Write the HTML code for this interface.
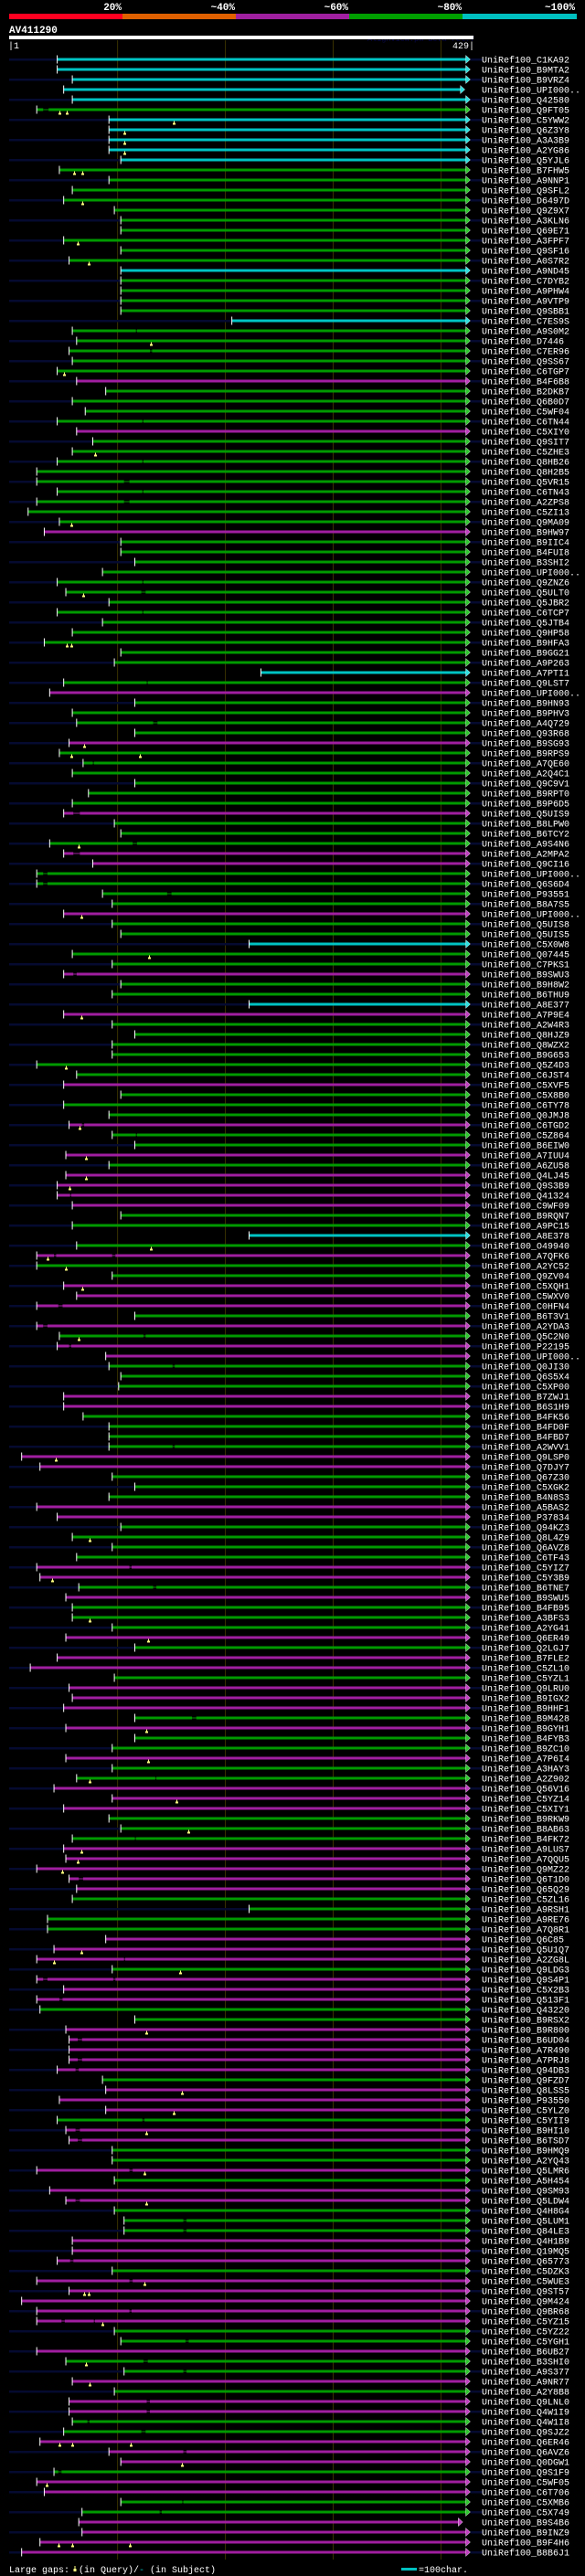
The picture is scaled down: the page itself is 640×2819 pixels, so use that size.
<!DOCTYPE html>
<html><head><meta charset="utf-8"><style>
html,body{margin:0;padding:0;background:#000;}
svg{display:block;}
text{font-family:"Liberation Mono",monospace;}
</style></head><body>
<svg id="chart" width="640" height="2819" viewBox="0 0 640 2819" xmlns="http://www.w3.org/2000/svg">
<rect x="0" y="0" width="640" height="2819" fill="#000"/>
<g>
<rect x="10" y="15" width="124" height="6" fill="#ff0020"/>
<rect x="134" y="15" width="124" height="6" fill="#e06000"/>
<rect x="258" y="15" width="124" height="6" fill="#a020a0"/>
<rect x="382" y="15" width="124" height="6" fill="#00a000"/>
<rect x="506" y="15" width="125" height="6" fill="#00c0c0"/>
<text x="133" y="11" text-anchor="end" font-size="11" font-weight="bold" fill="#fff">20%</text>
<text x="257" y="11" text-anchor="end" font-size="11" font-weight="bold" fill="#fff">~40%</text>
<text x="381" y="11" text-anchor="end" font-size="11" font-weight="bold" fill="#fff">~60%</text>
<text x="505" y="11" text-anchor="end" font-size="11" font-weight="bold" fill="#fff">~80%</text>
<text x="629" y="11" text-anchor="end" font-size="11" font-weight="bold" fill="#fff">~100%</text>
</g>
<text x="10" y="36" font-size="11" font-weight="bold" fill="#fff">AV411290</text>
<text x="402" y="45" font-size="8.5" fill="#0a0a46">AlignView.pm Beta rel.7</text>
<rect x="10" y="39" width="508" height="4" fill="#fff"/>
<text x="9" y="53" font-size="10" fill="#fff">|1</text>
<text x="519" y="53" text-anchor="end" font-size="10" fill="#fff">429|</text>
<g id="grid"></g>
<g id="rows"></g>
<g>
<text x="10" y="2815" font-size="10" fill="#fff">Large gaps:</text>
<line x1="82" y1="2808" x2="82" y2="2811" stroke="#ffff80" stroke-width="1"/>
<rect x="80.5" y="2811" width="3" height="3" fill="#ffff80"/>
<text x="86" y="2815" font-size="10" fill="#fff">(in Query)/<tspan fill="#00c0c0">-</tspan> (in Subject)</text>
<rect x="439" y="2810" width="17" height="3" fill="#00c0c0"/>
<text x="458" y="2815" font-size="10" fill="#fff">=100char.</text>
</g>
</svg>
<script>
const names = ["C1KA92","B9MTA2","B9VRZ4","UPI000..","Q42580","Q9FT05","C5YWW2","Q6Z3Y8","A3A3B9","A2YG86","Q5YJL6","B7FHW5","A9NNP1","Q9SFL2","D6497D","Q9Z9X7","A3KLN6","Q69E71","A3FPF7","Q9SF16","A0S7R2","A9ND45","C7DYB2","A9PHW4","A9VTP9","Q9SBB1","C7ES9S","A9S0M2","D7446","C7ER96","Q9SS67","C6TGP7","B4F6B8","B2DKB7","Q6B0D7","C5WF04","C6TN44","C5XIY0","Q9SIT7","C5ZHE3","Q8HB26","Q8H2B5","Q5VR15","C6TN43","A2ZPS8","C5ZI13","Q9MA09","B9HW97","B9IIC4","B4FUI8","B3SHI2","UPI000..","Q9ZNZ6","Q5ULT0","Q5JBR2","C6TCP7","Q5JTB4","Q9HP58","B9HFA3","B9GG21","A9P263","A7PTI1","Q9LST7","UPI000..","B9HN93","B9PHV3","A4Q729","Q93R68","B9SG93","B9RPS9","A7QE60","A2Q4C1","Q9C9V1","B9RPT0","B9P6D5","Q5UIS9","B8LPW0","B6TCY2","A9S4N6","A2MPA2","Q9CI16","UPI000..","Q6S6D4","P93551","B8A7S5","UPI000..","Q5UIS8","Q5UIS5","C5X0W8","Q07445","C7PKS1","B9SWU3","B9H8W2","B6THU9","A8E377","A7P9E4","A2W4R3","Q8HJZ9","Q8WZX2","B9G653","Q5Z4D3","C6JST4","C5XVF5","C5X8B0","C6TY78","Q0JMJ8","C6TGD2","C5Z864","B6EIW0","A7IUU4","A6ZU58","Q4LJ45","Q9S3B9","Q41324","C9WF09","B9RQN7","A9PC15","A8E378","O49940","A7QFK6","A2YC52","Q9ZV04","C5XQH1","C5WXV0","C0HFN4","B6T3V1","A2YDA3","Q5C2N0","P22195","UPI000..","Q0JI30","Q6S5X4","C5XP00","B7ZWJ1","B6S1H9","B4FK56","B4FD0F","B4FBD7","A2WVV1","Q9LSP0","Q7DJY7","Q67Z30","C5XGK2","B4N8S3","A5BAS2","P37834","Q94KZ3","Q8L4Z9","Q6AVZ8","C6TF43","C5YIZ7","C5Y3B9","B6TNE7","B9SWU5","B4FB95","A3BFS3","A2YG41","Q6ER49","Q2LGJ7","B7FLE2","C5ZL10","C5YZL1","Q9LRU0","B9IGX2","B9HHF1","B9M428","B9GYH1","B4FYB3","B9ZC10","A7P6I4","A3HAY3","A2Z902","Q56V16","C5YZ14","C5XIY1","B9RKW9","B8AB63","B4FK72","A9LUS7","A7QQU5","Q9MZ22","Q6T1D0","Q65Q29","C5ZL16","A9RSH1","A9RE76","A7Q8R1","Q6C85","Q5U1Q7","A2ZG8L","Q9LDG3","Q9S4P1","C5X2B3","Q513F1","Q43220","B9RSX2","B9R800","B6UD04","A7R490","A7PRJ8","Q94DB3","Q9FZD7","Q8LSS5","P93550","C5YLZ0","C5YII9","B9HI10","B6TSD7","B9HMQ9","A2YQ43","Q5LMR6","A5H454","Q9SM93","Q5LDW4","Q4H8G4","Q5LUM1","Q84LE3","Q4H1B9","Q19MQ5","Q65773","C5DZK3","C5WUE3","Q9ST57","Q9M424","Q9BR68","C5YZ15","C5YZ22","C5YGH1","B6UB27","B3SHI0","A9S377","A9NR77","A2Y8B8","Q9LNL0","Q4W1I9","Q4W1I8","Q9SJZ2","Q6ER46","Q6AVZ6","Q0DGW1","Q9S1F9","C5WF05","C6T706","C5XMB6","C5X749","B9S4B6","B9INZ9","B9F4H6","B8B6J1"];
const identityClass = ("cccccgcccc"+"cggggggggg"+"gcggggcggg"+"ggmggggmgg"+"gggggggmgg"+"gggggggggg"+"gcgmggggmg"+"gggggmgggm"+"mggggmggcg"+"gmggcmgggg"+"ggmgggmggm"+"gmmmmggcgm"+"ggmmmgmgmm"+"gggmmggggm"+"mgggmmgggg"+"mmgmgggmgm"+"mgmmmgmggm"+"ggmmmgggmm"+"mmmggggmmm"+"gmmmggmmmm"+"mgmmmgmmgg"+"mgmmgggmmm"+"gmmmmmggmg"+"gmgmmggmmm"+"gmmggmmmm").split("");
const starts = [44,44,58,50,58,25,92,92,92,92,103,46,92,58,50,97,103,103,50,103,55,103,103,103,103,103,206,58,62,55,58,44,62,89,58,70,44,62,77,58,44,
25,25,44,25,17,46,32,103,103,116,86,44,52,92,44,86,58,32,103,97,233,50,37,116,58,62,116,55,46,68,58,116,73,58,50,97,103,37,50,77,
25,25,86,95,50,95,103,222,58,95,50,103,95,222,50,95,116,95,95,25,62,50,103,50,92,55,95,116,52,92,52,44,44,58,103,58,222,62,25,25,95,
50,62,25,116,25,46,44,89,92,103,101,50,50,68,92,92,92,11,28,95,116,92,25,44,103,58,95,62,25,28,64,52,58,58,95,52,116,44,19,97,
55,58,50,116,52,116,95,52,95,62,41,95,50,92,103,58,50,52,25,55,62,58,222,35,35,89,41,25,95,25,50,25,28,116,52,55,55,55,44,86,
89,46,89,44,52,55,95,95,25,97,37,52,97,106,106,58,58,44,95,25,55,11,25,25,97,103,25,52,106,58,97,55,55,58,50,28,92,103,41,25,32,103,67,64,67,28,11];
const ends = {3:418, 245:416};
const defaultEnd = 423;
const subjectBreaks = {5:[[31,36]],27:[[117,118]],29:[[130,132]],36:[[123,124]],40:[[123,124]],42:[[106,111]],43:[[123,124]],44:[[106,111]],52:[[123,124]],53:[[122,126]],55:[[123,124]],62:[[127,128]],66:[[133,137]],70:[[77,78]],75:[[59,65]],78:[[114,118]],79:[[59,65]],81:[[31,35]],82:[[31,35]],83:[[146,150]],91:[[59,62]],106:[[67,69]],107:[[117,118]],113:[[56,57]],119:[[41,43],[95,98]],124:[[45,49]],126:[[31,35]],127:[[124,126]],128:[[55,57]],130:[[151,153]],138:[[151,153]],150:[[111,113]],152:[[133,136]],165:[[169,173]],171:[[135,136]],177:[[116,117]],181:[[64,68]],189:[[106,107]],191:[[31,35],[96,98]],193:[[46,49]],197:[[63,67]],199:[[63,67]],200:[[61,64]],205:[[123,125]],206:[[61,65]],207:[[63,67]],210:[[111,114]],213:[[61,65]],215:[[161,164]],216:[[161,164]],219:[[56,59]],221:[[111,114]],224:[[111,113]],225:[[48,51],[78,79]],227:[[163,166]],229:[[124,128]],230:[[161,164]],233:[[127,130]],234:[[127,130]],235:[[72,74]],236:[[122,126]],238:[[161,164]],240:[[45,48]],243:[[160,161]],244:[[139,141]]};
const queryGaps = {5:[46,53],6:[152],7:[106],8:[106],9:[106],11:[60,67],14:[67],18:[63],20:[73],28:[131],31:[50],39:[79],46:[57],53:[68],58:[53,57],68:[69],69:[57,121],78:[64],85:[66],89:[129],95:[66],100:[52],106:[65],109:[71],111:[71],112:[55],118:[131],119:[35],120:[52],122:[67],127:[64],139:[43],147:[74],151:[39],155:[74],157:[128],166:[127],169:[128],171:[74],173:[155],176:[166],178:[66],179:[63],180:[49],188:[66],189:[41],190:[158],196:[127],202:[160],204:[152],206:[127],210:[125],213:[127],221:[125],222:[69,73],225:[86],229:[71],231:[74],237:[46,58,112],239:[160],241:[34],247:[45,58,111]};
const gridTicks = [100,200,300,400];

const NS = "http://www.w3.org/2000/svg";
function xScale(c){ return 10.7 + 1.1793*c; }
function yRow(i){ return 65 + 11*i; }
const barColor = {c:"#00c4c4", g:"#009a00", m:"#a01ea0"};
const arrowColor = {c:"#30e0e0", g:"#30c830", m:"#c040c0"};
function mk(tag, attrs, parent){
  const el = document.createElementNS(NS, tag);
  for (const k in attrs) el.setAttribute(k, attrs[k]);
  parent.appendChild(el);
  return el;
}
const grid = document.getElementById("grid");
gridTicks.forEach(t => {
  const l = mk("line", {x1:xScale(t), x2:xScale(t), y1:44, y2:2801, stroke:"#3a3200", "stroke-width":1}, grid);
  
  
});
const rowsG = document.getElementById("rows");
for (let i = 0; i < names.length; i++) {
  const y = yRow(i);
  const col = identityClass[i] || "g";
  const s = starts[i];
  const e = ends[i] || defaultEnd;
  const g = mk("g", {}, rowsG);
  
  
  if (i % 2 === 0) {
    const n1 = mk("rect", {x:10, y:y-1, width:Math.max(0, xScale(s)-10), height:2.5, fill:"#050a30"}, g);
    
    
    const n2 = mk("rect", {x:xScale(e)+5, y:y-1, width:528-xScale(e)-5, height:2.5, fill:"#050a30"}, g);
    
    
  }
  // segments with subject breaks
  const brks = subjectBreaks[i] || [];
  let cur = s;
  const segs = [];
  brks.forEach(b => { segs.push([cur, b[0]]); cur = b[1]; });
  segs.push([cur, e]);
  segs.forEach(sg => {
    const r = mk("rect", {x:xScale(sg[0]), y:y-1.5, width:Math.max(0.5, xScale(sg[1])-xScale(sg[0])), height:3, fill:barColor[col]}, g);
    
    
  });
  brks.forEach(b => {
    const l = mk("line", {x1:xScale(b[0]), x2:xScale(b[1]), y1:y, y2:y, stroke:barColor[col], "stroke-width":1}, g);
    
    
  });
  const xe = xScale(e);
  const a = mk("polygon", {points:`${xe},${y-4.5} ${xe+5},${y} ${xe},${y+4.5}`, fill:arrowColor[col], stroke:"#ffffff", "stroke-width":0.4}, g);
  
  
  const t = mk("line", {x1:xScale(s), x2:xScale(s), y1:y-4.5, y2:y+4.5, stroke:"#fff", "stroke-width":1}, g);
  
  
  (queryGaps[i] || []).forEach(q => {
    const qx = Math.round(xScale(q)) + 0.5;
    const st = mk("line", {x1:qx, x2:qx, y1:y+1.5, y2:y+3.5, stroke:"#ffff80", "stroke-width":1}, g);
    
    
    const bx = mk("rect", {x:qx-1.5, y:y+3.5, width:3, height:2, fill:"#ffff80"}, g);
    
    
  });
  const lbl = mk("text", {x:527, y:y+3.5, "font-size":10, fill:"#fff"}, g);
  lbl.textContent = "UniRef100_" + names[i];
  
  
}
</script>
</body></html>
